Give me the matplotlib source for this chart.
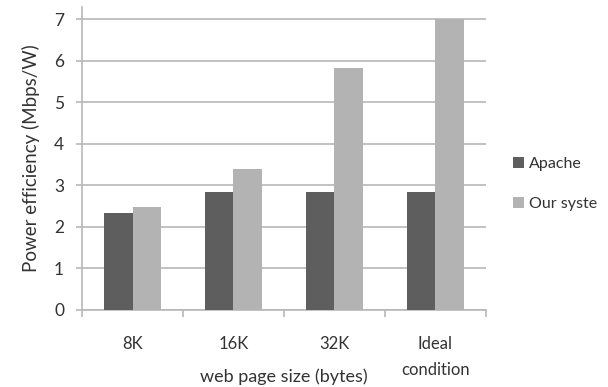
import matplotlib
matplotlib.use('Agg')
import matplotlib.pyplot as plt
import numpy as np

plt.rcParams['font.family'] = ['Lato', 'DejaVu Sans']

categories = ['8K', '16K', '32K', 'Ideal\ncondition']
apache = [2.33, 2.84, 2.84, 2.84]
our_system = [2.48, 3.40, 5.82, 7.0]
series_names = ['Apache', 'Our syste']

dark = '#5e5e5e'
light = '#b3b3b3'
grid_col = '#b8b8b8'

fig = plt.figure(figsize=(6.08, 3.87), dpi=100)
ax = fig.add_axes([0.135, 0.199, 0.664, 0.783])

x = np.arange(len(categories))
w = 0.285
ax.bar(x - w / 2, apache, w, color=dark, label=series_names[0], zorder=3)
ax.bar(x + w / 2, our_system, w, color=light, label=series_names[1], zorder=3)

ax.set_xlim(-0.5, len(categories) - 0.5)
ax.set_ylim(0, 7.3)
ax.set_yticks(range(0, 8))
ax.yaxis.grid(True, color=grid_col, lw=1.2, zorder=0)

for s in ['top', 'right']:
    ax.spines[s].set_visible(False)
for s in ['left', 'bottom']:
    ax.spines[s].set_color(grid_col)
    ax.spines[s].set_linewidth(1.2)

ax.set_xticks(x)
ax.set_xticklabels(categories, fontsize=12, color='#333333', linespacing=1.75, va='top')
ax.set_xticks(np.arange(-0.5, len(categories)), minor=True)
ax.tick_params(axis='x', which='major', length=0, pad=19)
ax.tick_params(axis='x', which='minor', length=5, width=1.2, color=grid_col)
ax.tick_params(axis='y', length=4, width=1.2, color=grid_col, labelsize=12.5, labelcolor='#333333', pad=9)

ax.set_xlabel('web page size (bytes)', fontsize=13, color='#333333', labelpad=-7)
ax.set_ylabel('Power efficiency (Mbps/W)', fontsize=13.5, color='#333333', labelpad=10)

fig.legend(loc='center left', bbox_to_anchor=(0.82, 0.525), frameon=False,
           fontsize=11.5, handlelength=0.7, handleheight=0.7, handletextpad=0.3,
           labelspacing=1.6, labelcolor='#333333')

fig.savefig('out.png', dpi=100)
